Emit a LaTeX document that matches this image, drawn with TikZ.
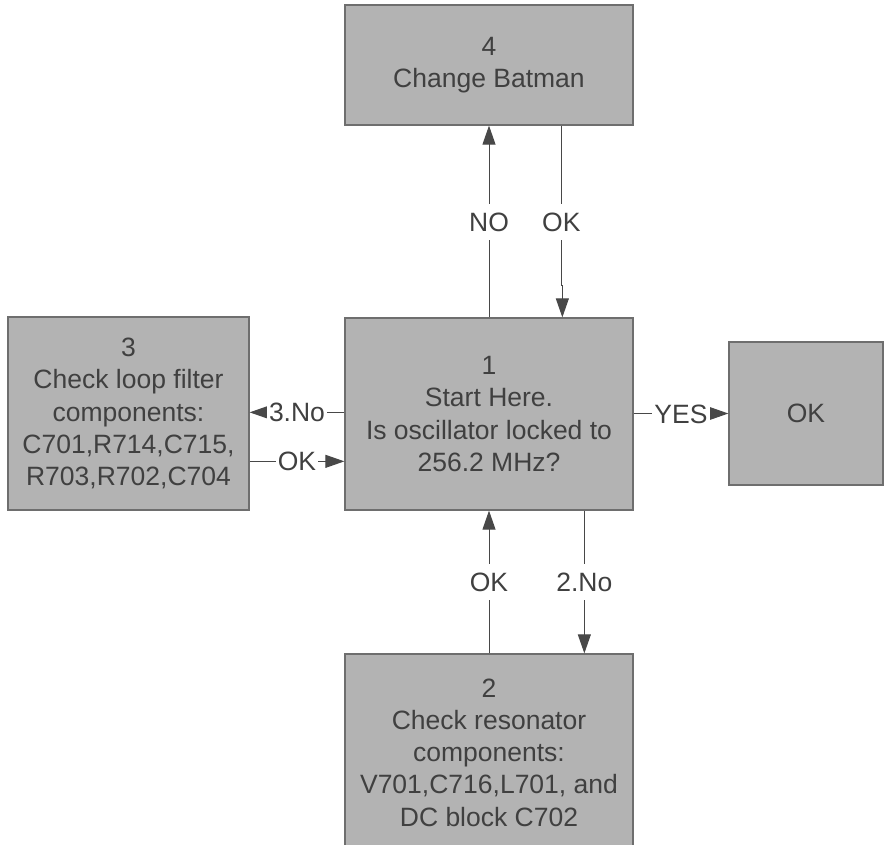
\documentclass[tikz,border=0pt]{standalone}
\usepackage{fontspec}
\setmainfont{Liberation Sans}
\usetikzlibrary{arrows.meta,calc}
\definecolor{boxfill}{HTML}{B3B3B3}
\definecolor{boxedge}{HTML}{6E6E6E}
\definecolor{ink}{HTML}{404040}
\definecolor{wire}{HTML}{484848}

\begin{document}
\begin{tikzpicture}[x=1pt,y=-1pt,
  stage/.style={draw=boxedge, line width=1.3pt, fill=boxfill, text=ink,
    align=center, inner sep=0pt, font=\fontsize{26.5}{32.3}\selectfont},
  flow/.style={draw=wire, line width=1pt, -{Triangle[length=19pt,width=13pt]}},
  tag/.style={fill=white, text=ink, inner xsep=2pt, inner ysep=4pt,
    text height=23.5pt, text depth=4.5pt, font=\fontsize{26.5}{32.3}\selectfont}]
  \useasboundingbox (0,0) rectangle (888,845);
  \clip (0,0) rectangle (888,845);

  % process boxes
  \node[stage, minimum width=288pt, minimum height=120pt] (b4) at (489,65)
    {4\\Change Batman};
  \node[stage, minimum width=288pt, minimum height=192pt] (b1) at (489,414)
    {1\\Start Here.\\Is oscillator locked to\\256.2 MHz?};
  \node[stage, minimum width=241pt, minimum height=193pt] (b3) at (128.5,413.5)
    {3\\Check loop filter\\components:\\C701,R714,C715,\\R703,R702,C704};
  \node[stage, minimum width=154pt, minimum height=143pt] (okbox) at (806,413.5)
    {OK};
  \node[stage, minimum width=288pt, minimum height=197pt] (b2) at (489,752.5)
    {2\\Check resonator\\components:\\V701,C716,L701, and\\DC block C702};

  % up to box 4 and back
  \draw[flow] (b1.north) -- node[tag]{NO} (b4.south);
  \coordinate (okA) at ($(b4.south west)+(217,0)$);
  \coordinate (okB) at ($(okA)+(0,160)$);
  \coordinate (okC) at ($(okB)+(1,0)$);
  \draw[flow] (okA) -- node[tag,pos=0.6]{OK} (okB) -- (okC) -- (okC |- b1.north);

  % loop filter branch
  \coordinate (n3) at ($(b1.north west)+(0,95)$);
  \coordinate (k3) at ($(b1.north west)+(0,144)$);
  \draw[flow] (n3) -- node[tag]{3.No} (n3 -| b3.east);
  \draw[flow] (k3 -| b3.east) -- node[tag]{OK} (k3);

  % success
  \draw[flow] (b1.east |- okbox.center) -- node[tag]{YES} (okbox.west);

  % resonator branch
  \draw[flow] (b2.north) -- node[tag]{OK} (b1.south);
  \coordinate (d2) at ($(b1.south west)+(240,0)$);
  \draw[flow] (d2) -- node[tag]{2.No} (d2 |- b2.north);
\end{tikzpicture}
\end{document}
